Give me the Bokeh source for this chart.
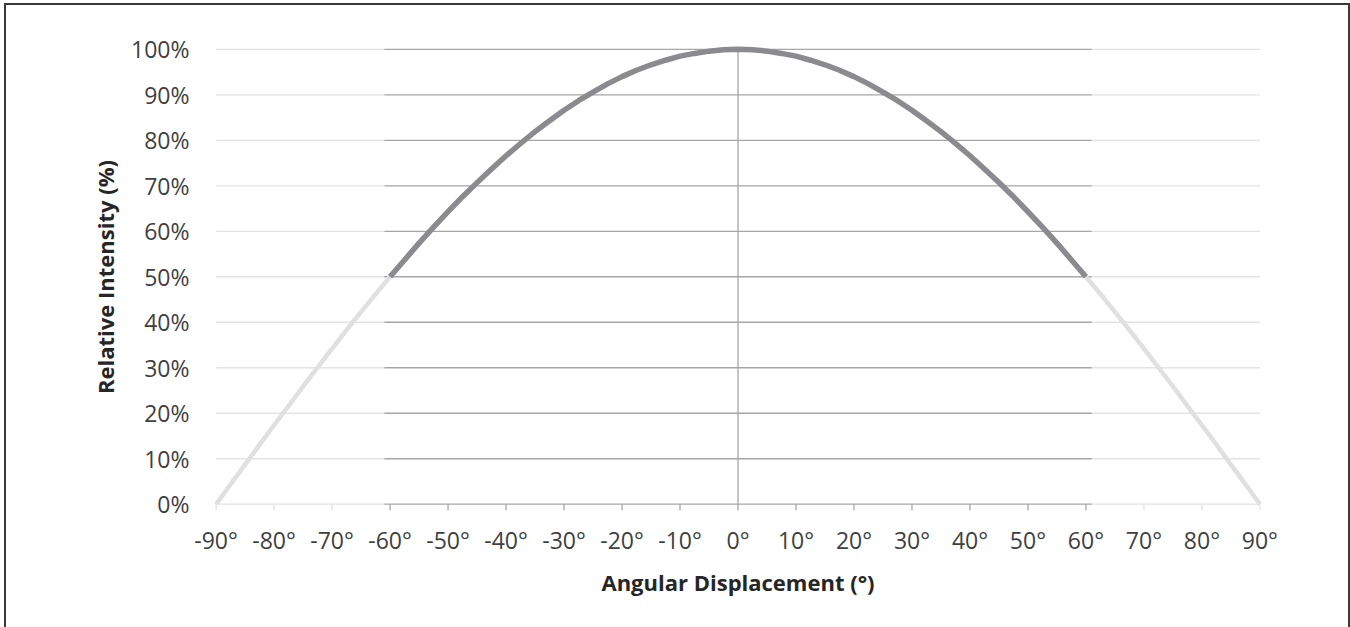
from bokeh.plotting import figure
from bokeh.models import Range1d, FixedTicker
from bokeh.embed import file_html
from bokeh.resources import INLINE

# ---- data ----
angles = [-90, -87.5, -85, -82.5, -80, -77.5, -75, -72.5, -70, -67.5, -65, -62.5, -60,
          -57.5, -55, -52.5, -50, -47.5, -45, -42.5, -40, -37.5, -35, -32.5, -30, -27.5,
          -25, -22.5, -20, -17.5, -15, -12.5, -10, -7.5, -5, -2.5, 0,
          2.5, 5, 7.5, 10, 12.5, 15, 17.5, 20, 22.5, 25, 27.5, 30, 32.5, 35, 37.5, 40,
          42.5, 45, 47.5, 50, 52.5, 55, 57.5, 60, 62.5, 65, 67.5, 70, 72.5, 75, 77.5,
          80, 82.5, 85, 87.5, 90]
intensity = [0, 4.4, 8.7, 13.1, 17.4, 21.6, 25.9, 30.1, 34.2, 38.3, 42.3, 46.2, 50,
             53.7, 57.4, 60.9, 64.3, 67.6, 70.7, 73.7, 76.6, 79.3, 81.9, 84.3, 86.6, 88.7,
             90.6, 92.4, 94.0, 95.4, 96.6, 97.6, 98.5, 99.1, 99.6, 99.9, 100,
             99.9, 99.6, 99.1, 98.5, 97.6, 96.6, 95.4, 94.0, 92.4, 90.6, 88.7, 86.6, 84.3,
             81.9, 79.3, 76.6, 73.7, 70.7, 67.6, 64.3, 60.9, 57.4, 53.7, 50, 46.2, 42.3,
             38.3, 34.2, 30.1, 25.9, 21.6, 17.4, 13.1, 8.7, 4.4, 0]
x_ticks = [-90, -80, -70, -60, -50, -40, -30, -20, -10, 0, 10, 20, 30, 40, 50, 60, 70, 80, 90]
x_tick_labels = ["-90°", "-80°", "-70°", "-60°", "-50°", "-40°", "-30°", "-20°", "-10°", "0°",
                 "10°", "20°", "30°", "40°", "50°", "60°", "70°", "80°", "90°"]
y_ticks = [0, 10, 20, 30, 40, 50, 60, 70, 80, 90, 100]
y_tick_labels = ["0%", "10%", "20%", "30%", "40%", "50%", "60%", "70%", "80%", "90%", "100%"]
inner_limit = 60      # dark (primary) angular span
grid_inner = 61       # dark gridline half-span

DARK = "#8b8b8f"
LIGHT = "#e0e0e0"
GRID_DARK = "#a6a6a6"
GRID_LIGHT = "#e3e3e3"
TEXT = "#3f3f3f"
FONT = "Open Sans"

p = figure(width=1346, height=624, output_backend="svg", toolbar_location=None,
           x_range=Range1d(-92, 92), y_range=Range1d(-1.6, 101.5),
           min_border_left=200, min_border_right=79, min_border_top=39, min_border_bottom=116)
p.outline_line_color = None
p.border_fill_color = None
p.background_fill_color = None
p.xgrid.visible = False
p.ygrid.visible = False
p.styles = {"margin": "3px 0 0 4px",
            "box-shadow": "inset 2px 0 0 #3a3a3a, inset 0 2px 0 #3a3a3a, inset -2px 0 0 #3a3a3a"}

# gridlines
n = len(y_ticks)
p.segment(x0=[-90] * n, x1=[-grid_inner] * n, y0=y_ticks, y1=y_ticks, line_color=GRID_LIGHT, line_width=1.3)
p.segment(x0=[grid_inner] * n, x1=[90] * n, y0=y_ticks, y1=y_ticks, line_color=GRID_LIGHT, line_width=1.3)
p.segment(x0=[-grid_inner] * n, x1=[grid_inner] * n, y0=y_ticks, y1=y_ticks, line_color=GRID_DARK, line_width=1.3)
p.segment(x0=[0], x1=[0], y0=[0], y1=[100], line_color=GRID_DARK, line_width=1.3)

# tick marks
in_t = [t for t in x_ticks if abs(t) <= inner_limit]
out_t = [t for t in x_ticks if abs(t) > inner_limit]
p.segment(x0=out_t, x1=out_t, y0=[0] * len(out_t), y1=[-1.3] * len(out_t), line_color=GRID_LIGHT, line_width=1.3)
p.segment(x0=in_t, x1=in_t, y0=[0] * len(in_t), y1=[-1.3] * len(in_t), line_color=GRID_DARK, line_width=1.3)

# curves
left_x = [a for a in angles if a <= -inner_limit]
left_y = [v for a, v in zip(angles, intensity) if a <= -inner_limit]
right_x = [a for a in angles if a >= inner_limit]
right_y = [v for a, v in zip(angles, intensity) if a >= inner_limit]
mid_x = [a for a in angles if abs(a) <= inner_limit]
mid_y = [v for a, v in zip(angles, intensity) if abs(a) <= inner_limit]
p.line(left_x, left_y, line_color=LIGHT, line_width=4.5, line_join="round")
p.line(right_x, right_y, line_color=LIGHT, line_width=4.5, line_join="round")
p.line(mid_x, mid_y, line_color=DARK, line_width=5.5, line_join="round")

# axes
for ax in (p.xaxis[0], p.yaxis[0]):
    ax.axis_line_color = None
    ax.major_tick_line_color = None
    ax.minor_tick_line_color = None
    ax.major_label_text_font = FONT
    ax.major_label_text_font_size = "23px"
    ax.major_label_text_color = TEXT
    ax.axis_label_text_font = FONT
    ax.axis_label_text_font_size = "22px"
    ax.axis_label_text_font_style = "bold"
    ax.axis_label_text_color = "#262626"

p.xaxis.ticker = FixedTicker(ticks=x_ticks)
p.xaxis.major_label_overrides = {t: l for t, l in zip(x_ticks, x_tick_labels)}
p.yaxis.ticker = FixedTicker(ticks=y_ticks)
p.yaxis.major_label_overrides = {t: l for t, l in zip(y_ticks, y_tick_labels)}
p.xaxis.major_label_standoff = 6
p.yaxis.major_label_standoff = 9
p.xaxis.axis_label = "Angular Displacement (°)"
p.yaxis.axis_label = "Relative Intensity (%)"
p.xaxis.axis_label_standoff = 8
p.yaxis.axis_label_standoff = 8

open("out.html", "w").write(file_html(p, INLINE))
